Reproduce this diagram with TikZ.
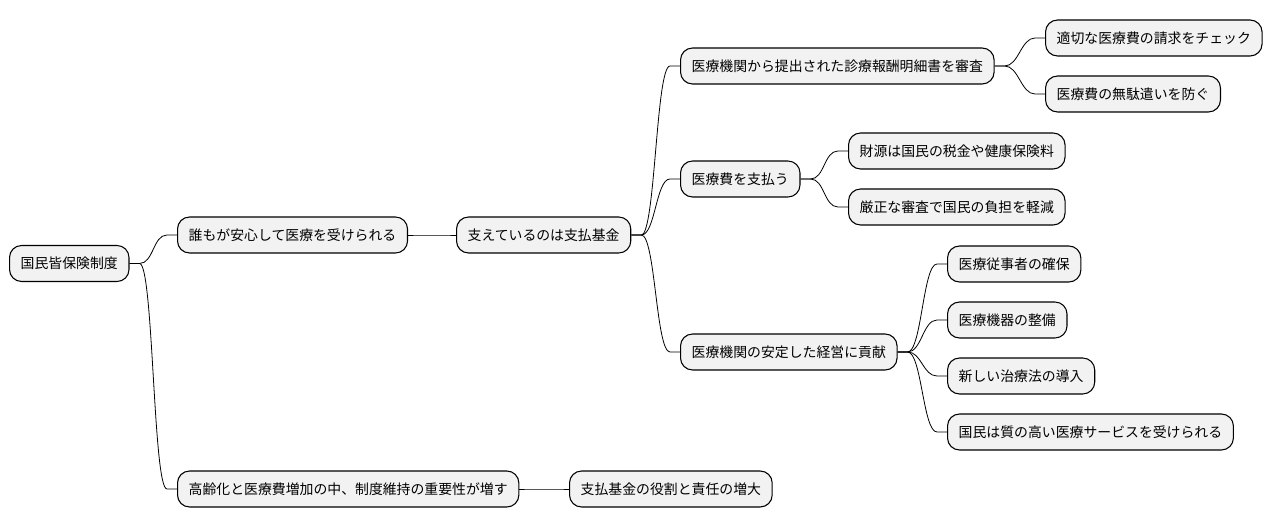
\documentclass[tikz,border=0pt]{standalone}
\usepackage{fontspec}
\setmainfont{Noto Sans CJK JP}
\usetikzlibrary{calc}

\begin{document}
\begin{tikzpicture}[x=0.75pt,y=-0.75pt,
	topic/.style={rectangle,rounded corners=9pt,draw=black,line width=0.8pt,fill=black!5,
		anchor=west,minimum height=27pt,inner xsep=8.4pt,font=\fontsize{10.4pt}{12pt}\selectfont},
	link/.style={draw=black,line width=0.6pt}]
	\useasboundingbox (0,0) rectangle (1272,527);
	\newcommand\mmlink[2]{\draw[link] (#1.east) -- ++(10,0) .. controls +(14,0) and +(-14,0) .. ($(#2.west)+(-10,0)$) -- (#2.west);}

	\node[topic] (KH) at (9,263.5) {国民皆保険制度};
	\node[topic] (AN) at (177,235) {誰もが安心して医療を受けられる};
	\node[topic] (SK) at (456,235) {支えているのは支払基金};
	\node[topic] (SS) at (680,66) {医療機関から提出された診療報酬明細書を審査};
	\node[topic] (TK) at (1045,38) {適切な医療費の請求をチェック};
	\node[topic] (MD) at (1045,94) {医療費の無駄遣いを防ぐ};
	\node[topic] (SH) at (680,179) {医療費を支払う};
	\node[topic] (ZG) at (848,151) {財源は国民の税金や健康保険料};
	\node[topic] (GS) at (848,207) {厳正な審査で国民の負担を軽減};
	\node[topic] (KE) at (680,352) {医療機関の安定した経営に貢献};
	\node[topic] (JS) at (947,264) {医療従事者の確保};
	\node[topic] (KK) at (947,320) {医療機器の整備};
	\node[topic] (DN) at (947,376) {新しい治療法の導入};
	\node[topic] (IS) at (947,432) {国民は質の高い医療サービスを受けられる};
	\node[topic] (KR) at (177,489) {高齢化と医療費増加の中、制度維持の重要性が増す};
	\node[topic] (YS) at (569,489) {支払基金の役割と責任の増大};

	\mmlink{KH}{AN}
	\mmlink{KH}{KR}
	\mmlink{AN}{SK}
	\mmlink{SK}{SS}
	\mmlink{SK}{SH}
	\mmlink{SK}{KE}
	\mmlink{SS}{TK}
	\mmlink{SS}{MD}
	\mmlink{SH}{ZG}
	\mmlink{SH}{GS}
	\mmlink{KE}{JS}
	\mmlink{KE}{KK}
	\mmlink{KE}{DN}
	\mmlink{KE}{IS}
	\mmlink{KR}{YS}
\end{tikzpicture}
\end{document}
